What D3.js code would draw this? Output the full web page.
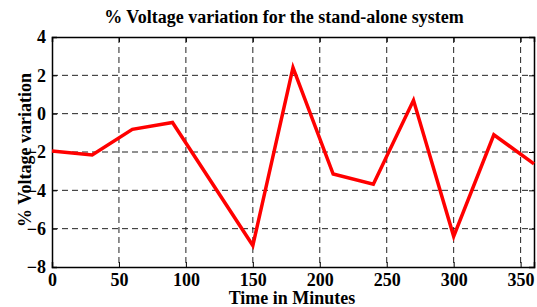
<!DOCTYPE html>
<html>
<head>
<meta charset="utf-8">
<script src="https://cdn.jsdelivr.net/npm/d3@7"></script>
<style>
  body { margin: 0; background: #fff; }
</style>
</head>
<body>
<svg id="chart"></svg>
<script>
// Thời gian (phút) và % biến thiên điện áp
const timeMinutes = [0, 30, 60, 90, 150, 180, 210, 240, 270, 300, 330, 360];
const voltageVariation = [-1.95, -2.15, -0.82, -0.46, -6.88, 2.4, -3.15, -3.68, 0.7, -6.4, -1.1, -2.62];
const xTicks = [0, 50, 100, 150, 200, 250, 300, 350];
const yTicks = [-8, -6, -4, -2, 0, 2, 4];

const data = timeMinutes.map((t, i) => ({ t, v: voltageVariation[i] }));
const FONT = "Liberation Serif, Times New Roman, Times, serif";

const W = 537, H = 307;
const margin = { top: 37, right: 3, bottom: 40, left: 52 };
const width = W - margin.left - margin.right,
      height = H - margin.top - margin.bottom;

const svg = d3.select("#chart")
    .attr("width", W)
    .attr("height", H);

const g = svg.append("g")
    .attr("transform", `translate(${margin.left},${margin.top})`);

const x = d3.scaleLinear().domain([0, 360]).range([0, width]);
const y = d3.scaleLinear().domain([-8, 4]).range([height, 0]);

// Lưới nét đứt
g.selectAll(".vgrid")
    .data(xTicks.filter(d => d > 0))
    .enter().append("line")
    .attr("x1", d => x(d)).attr("x2", d => x(d))
    .attr("y1", 0).attr("y2", height)
    .attr("stroke", "#222")
    .attr("stroke-width", 1)
    .attr("stroke-dasharray", "6,4");

g.selectAll(".hgrid")
    .data(yTicks.filter(d => d > -8 && d < 4))
    .enter().append("line")
    .attr("x1", 0).attr("x2", width)
    .attr("y1", d => y(d)).attr("y2", d => y(d))
    .attr("stroke", "#222")
    .attr("stroke-width", 1)
    .attr("stroke-dasharray", "6,4");

// Trục
const xAxis = g.append("g")
    .attr("transform", `translate(0,${height})`)
    .call(d3.axisBottom(x).tickValues(xTicks).tickSize(-5).tickPadding(8));
const yAxis = g.append("g")
    .call(d3.axisLeft(y).tickValues(yTicks).tickSize(-5).tickPadding(6));
g.append("g")
    .call(d3.axisTop(x).tickValues(xTicks).tickSize(-5).tickFormat(""));
g.append("g")
    .attr("transform", `translate(${width},0)`)
    .call(d3.axisRight(y).tickValues(yTicks).tickSize(-5).tickFormat(""));

g.selectAll(".domain").attr("stroke", "#000").attr("stroke-width", 1.5);
g.selectAll(".tick line").attr("stroke", "#000");
[xAxis, yAxis].forEach(a => a
    .attr("font-family", FONT)
    .attr("font-size", 18)
    .attr("font-weight", "bold")
    .selectAll("text").attr("fill", "#000"));
xAxis.selectAll("text").attr("dy", "0.6em");

// Đường dữ liệu
const line = d3.line()
    .x(d => x(d.t))
    .y(d => y(d.v));

g.append("path")
    .datum(data)
    .attr("fill", "none")
    .attr("stroke", "#ff0000")
    .attr("stroke-width", 3.5)
    .attr("stroke-linejoin", "miter")
    .attr("d", line);

// Tiêu đề và nhãn trục
const labels = svg.append("g")
    .attr("font-family", FONT)
    .attr("font-weight", "bold")
    .attr("font-size", 18);

labels.append("text")
    .attr("x", 284)
    .attr("y", 23)
    .attr("text-anchor", "middle")
    .text("% Voltage variation for the stand-alone system");

labels.append("text")
    .attr("x", 292)
    .attr("y", 304)
    .attr("text-anchor", "middle")
    .text("Time in Minutes");

labels.append("text")
    .attr("transform", `translate(31,150) rotate(-90)`)
    .attr("text-anchor", "middle")
    .text("% Voltage variation");
</script>
</body>
</html>
